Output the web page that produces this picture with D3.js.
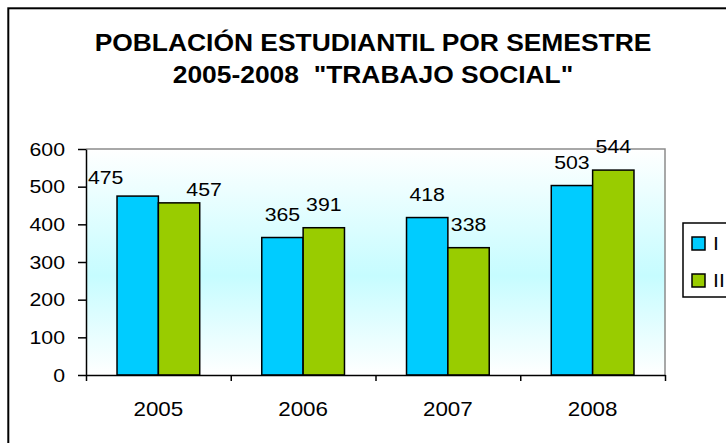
<!DOCTYPE html>
<html>
<head>
<meta charset="utf-8">
<script src="https://cdn.jsdelivr.net/npm/d3@7"></script>
<style>
  body { margin: 0; background: #fff; }
  text { font-family: "Liberation Sans", Arial, sans-serif; fill: #000; }
</style>
</head>
<body>
<div class="chart"></div>
<script>
// Poblacion estudiantil por semestre (bar chart)

// Data
var years = ["2005", "2006", "2007", "2008"];
var seriesNames = ["I", "II"];
var semI = [475, 365, 418, 503];
var semII = [457, 391, 338, 544];
var yTicks = [0, 100, 200, 300, 400, 500, 600];

var colors = ["#00ccff", "#99cc00"];

// a couple of labels were dragged by hand in the original
var labelNudge = {
    "0-0": [-32, 5],
    "0-1": [25, 10]
};

// SVG Dimensions
var svgWidth = 726;
var svgHeight = 443;

var plot = { left: 86, right: 665, top: 149, bottom: 375 };
var stretch = 1.12; // the source picture is a bit wider than tall

var svg = d3.select(".chart")
    .append("svg")
    .attr("width", svgWidth)
    .attr("height", svgHeight);

// outer frame (only left and top edges are inside the picture)
svg.append("rect")
    .attr("x", 8.3)
    .attr("y", 8.3)
    .attr("width", svgWidth + 20)
    .attr("height", svgHeight + 20)
    .attr("fill", "#fff")
    .attr("stroke", "#000")
    .attr("stroke-width", 2);

// Title
var title = svg.append("text")
    .attr("text-anchor", "middle")
    .attr("font-weight", "bold")
    .attr("font-size", 24)
    .attr("transform", "translate(373,0) scale(1.1,1)")
    .style("white-space", "pre");
title.append("tspan").attr("x", 0).attr("y", 51).text("POBLACIÓN ESTUDIANTIL POR SEMESTRE");
title.append("tspan").attr("x", 0).attr("y", 83).text('2005-2008  "TRABAJO SOCIAL"');

// background gradient
var grad = svg.append("defs").append("linearGradient")
    .attr("id", "bg")
    .attr("x1", 0).attr("y1", 0).attr("x2", 0).attr("y2", 1);
grad.append("stop").attr("offset", "0%").attr("stop-color", "#ffffff");
grad.append("stop").attr("offset", "56%").attr("stop-color", "#c6fcff");
grad.append("stop").attr("offset", "100%").attr("stop-color", "#ffffff");

svg.append("rect")
    .attr("x", plot.left)
    .attr("y", plot.top)
    .attr("width", plot.right - plot.left)
    .attr("height", plot.bottom - plot.top)
    .attr("fill", "url(#bg)");

// top / right border of plot area
svg.append("path")
    .attr("d", `M${plot.left},${plot.top}H${plot.right}V${plot.bottom}`)
    .attr("fill", "none")
    .attr("stroke", "#8c8c8c")
    .attr("stroke-width", 1.5);

// Scales
var xScale = d3.scaleBand()
    .domain(years)
    .range([plot.left, plot.right])
    .paddingInner(0)
    .paddingOuter(0);

var barW = xScale.bandwidth() / 3.5;
var xInner = d3.scaleBand()
    .domain(seriesNames)
    .range([(xScale.bandwidth() - 2 * barW) / 2, (xScale.bandwidth() + 2 * barW) / 2]);

var yScale = d3.scaleLinear()
    .domain([0, 600])
    .range([plot.bottom, plot.top]);

// Bars
var rows = years.map(function(y, i) {
    return { year: y, values: [semI[i], semII[i]] };
});

var groups = svg.selectAll(".yearGroup")
    .data(rows)
    .enter()
    .append("g")
    .attr("class", "yearGroup")
    .attr("transform", d => `translate(${xScale(d.year)},0)`);

groups.selectAll("rect")
    .data(d => d.values.map((v, j) => ({ s: seriesNames[j], j: j, v: v })))
    .enter()
    .append("rect")
    .attr("x", d => xInner(d.s))
    .attr("y", d => yScale(d.v))
    .attr("width", xInner.bandwidth())
    .attr("height", d => plot.bottom - yScale(d.v))
    .attr("fill", d => colors[d.j])
    .attr("stroke", "#000")
    .attr("stroke-width", 1.5);

// value labels
groups.each(function(row, i) {
    d3.select(this).selectAll(".val")
        .data(row.values.map((v, j) => ({ s: seriesNames[j], j: j, v: v })))
        .enter()
        .append("text")
        .attr("class", "val")
        .attr("text-anchor", "middle")
        .attr("font-size", 19)
        .attr("transform", function(d) {
            var n = labelNudge[i + "-" + d.j] || [0, 0];
            var x = xInner(d.s) + xInner.bandwidth() / 2 + n[0];
            var y = yScale(d.v) - 17 + n[1];
            return `translate(${x},${y}) scale(${stretch},1)`;
        })
        .text(d => d.v);
});

// Axes
var yAxis = d3.axisLeft(yScale)
    .tickValues(yTicks)
    .tickSize(8)
    .tickSizeOuter(0);

var yAxisG = svg.append("g")
    .attr("transform", `translate(${plot.left},0)`)
    .call(yAxis);
yAxisG.selectAll("text")
    .attr("x", 0)
    .attr("font-size", 19)
    .attr("fill", "#000")
    .attr("transform", `translate(-21,0) scale(${stretch},1)`);

// x axis: ticks sit between categories
var xEdge = d3.scaleLinear().domain([0, years.length]).range([plot.left, plot.right]);
var xAxisG = svg.append("g")
    .attr("transform", `translate(0,${plot.bottom})`)
    .call(d3.axisBottom(xEdge)
        .tickValues(d3.range(years.length + 1))
        .tickFormat("")
        .tickSize(6)
        .tickSizeOuter(0));

svg.selectAll(".domain").attr("stroke", "#000").attr("stroke-width", 1.5);
svg.selectAll(".tick line").attr("stroke", "#000").attr("stroke-width", 1.5);

svg.selectAll(".xLabel")
    .data(years)
    .enter()
    .append("text")
    .attr("class", "xLabel")
    .attr("text-anchor", "middle")
    .attr("font-size", 20)
    .attr("transform", d => `translate(${xScale(d) + xScale.bandwidth() / 2},416) scale(${stretch},1)`)
    .text(d => d);

// Legend
var legend = svg.append("g").attr("transform", "translate(683,223)");
legend.append("rect")
    .attr("width", 70)
    .attr("height", 74)
    .attr("fill", "#fff")
    .attr("stroke", "#000")
    .attr("stroke-width", 1.5);

var legendItems = legend.selectAll(".leg")
    .data(seriesNames)
    .enter()
    .append("g")
    .attr("class", "leg")
    .attr("transform", (d, i) => `translate(9,${14 + i * 37})`);

legendItems.append("rect")
    .attr("width", 13)
    .attr("height", 13)
    .attr("fill", (d, i) => colors[i])
    .attr("stroke", "#000")
    .attr("stroke-width", 1.5);

legendItems.append("text")
    .attr("font-size", 19)
    .attr("transform", `translate(21,13) scale(${stretch},1)`)
    .text(d => d);
</script>
</body>
</html>
